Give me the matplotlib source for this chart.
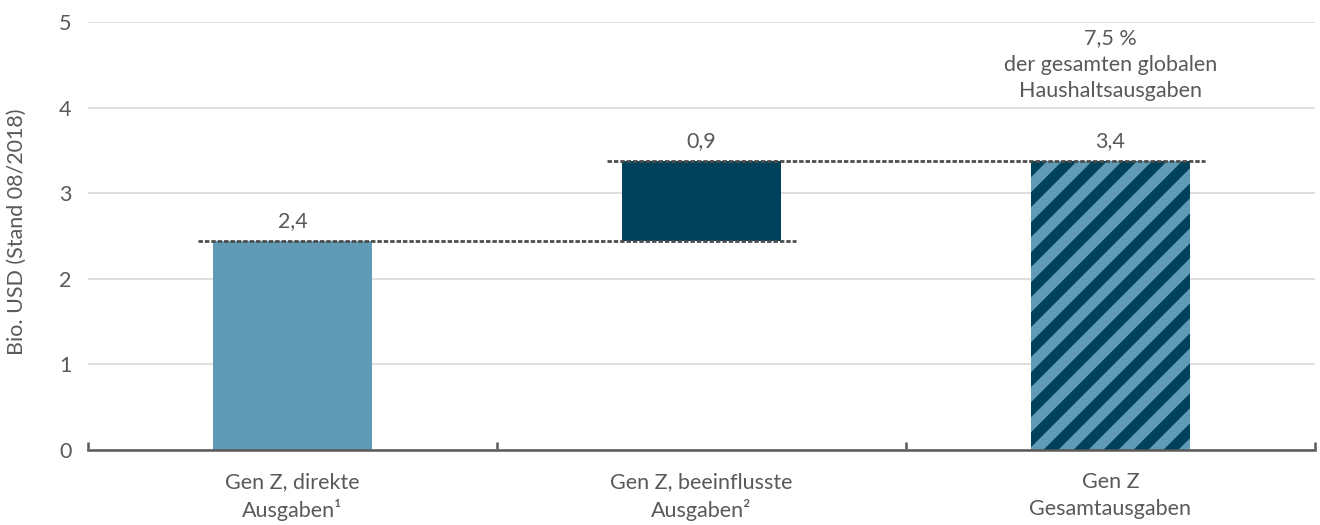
"""Gen Z spending: direct vs. influenced vs. total (Bio. USD)."""
import matplotlib
matplotlib.use("Agg")
import matplotlib.pyplot as plt
from matplotlib.lines import Line2D
from matplotlib.transforms import IdentityTransform

# ---------- data ----------
categories = [
    "Gen Z, direkte\nAusgaben\u00b9",
    "Gen Z, beeinflusste\nAusgaben\u00b2",
    "Gen Z\nGesamtausgaben",
]
direct_spend = 2.44       # Bio. USD
influenced_spend = 0.94   # Bio. USD
total_spend = direct_spend + influenced_spend
global_share_pct = 7.5
y_ticks = [0, 1, 2, 3, 4, 5]
y_label = "Bio. USD (Stand 08/2018)"

LIGHT = "#619AB5"
DARK = "#00415C"
TEXT = "#595959"
GRID = "#D9D9D9"
FS = 15.5

plt.rcParams["font.family"] = ["Lato", "DejaVu Sans"]


def fmt(v):
    return f"{v:.1f}".replace(".", ",")


fig = plt.figure(figsize=(13.2, 5.25), dpi=100)
ax = fig.add_axes([88 / 1320, 1 - 450 / 525, 1227 / 1320, 428 / 525])

width = 0.39
x = [0, 1, 2]
ax.bar(x[0], direct_spend, width, color=LIGHT, zorder=3)
ax.bar(x[1], influenced_spend, width, bottom=direct_spend, color=DARK, zorder=3)
total_bar = ax.bar(x[2], total_spend, width, color=LIGHT, zorder=3)[0]

ax.set_xlim(-0.5, 2.5)
ax.set_ylim(0, 5)

# diagonal stripes on the total bar, drawn in pixel space and clipped to it
(bx0, by0) = ax.transData.transform((x[2] - width / 2, 0))
(bx1, by1) = ax.transData.transform((x[2] + width / 2, total_spend))
period = 30
h = by1 - by0
k = -int(h / period) - 2
while bx0 + k * period < bx1 + period:
    xs = bx0 + k * period
    stripe = Line2D([xs, xs + h + 40], [by0 - 20, by1 + 20], color=DARK,
                    lw=7.6, solid_capstyle="butt", transform=IdentityTransform(),
                    zorder=4)
    ax.add_line(stripe)
    stripe.set_clip_path(total_bar)
    k += 1

# dashed connectors between the waterfall steps
over = width / 2 + 0.037
dash = dict(ls=(0, (1.6, 0.7)), color="#4D4D4D", lw=2.0, zorder=5)
ax.plot([x[0] - over, x[1] + over], [direct_spend] * 2, **dash)
ax.plot([x[1] - over, x[2] + over], [total_spend] * 2, **dash)

# value labels
for xi, top, val in [(x[0], direct_spend, direct_spend),
                     (x[1], total_spend, influenced_spend),
                     (x[2], total_spend, total_spend)]:
    ax.annotate(fmt(val), (xi, top), xytext=(0, 7), textcoords="offset points",
                ha="center", va="bottom", fontsize=FS, color=TEXT)

ax.text(x[2], 4.5, f"{fmt(global_share_pct)} %\nder gesamten globalen\nHaushaltsausgaben",
        ha="center", va="center", fontsize=FS, color=TEXT, linespacing=1.4)

# axes styling
for side in ["left", "right", "top"]:
    ax.spines[side].set_visible(False)
ax.spines["bottom"].set_color(TEXT)
ax.spines["bottom"].set_linewidth(1.8)
ax.spines["bottom"].set_zorder(6)

ax.set_yticks(y_ticks)
ax.set_yticklabels([str(t) for t in y_ticks])
ax.tick_params(axis="y", length=0, pad=12, labelsize=FS, labelcolor=TEXT)
ax.grid(axis="y", color=GRID, lw=1.2, zorder=0)
ax.set_axisbelow(True)

ax.set_xticks(x)
ax.set_xticklabels(categories, linespacing=1.4)
ax.tick_params(axis="x", which="major", length=0, pad=16, labelsize=FS,
               labelcolor=TEXT)
ax.set_xticks([-0.5, 0.5, 1.5, 2.5], minor=True)
ax.tick_params(axis="x", which="minor", direction="in", length=5.5, width=1.8,
               color=TEXT)

fig.text(17 / 1320, 1 - 232 / 525, y_label, rotation=90, ha="center",
         va="center", fontsize=FS, color=TEXT)

fig.savefig("out.png", dpi=100)
